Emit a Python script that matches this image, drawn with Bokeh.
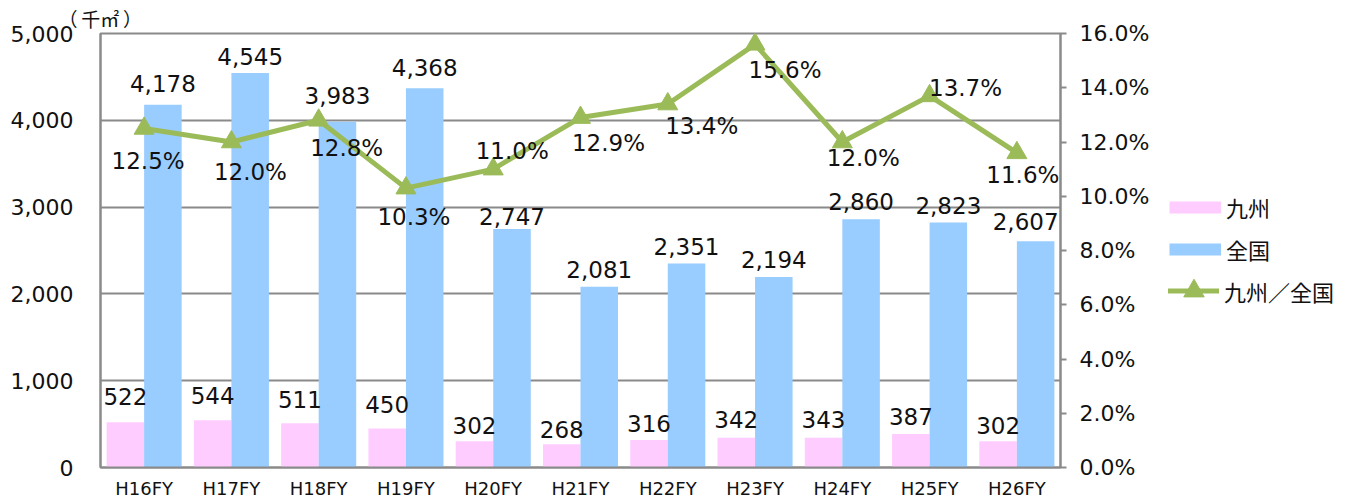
from bokeh.plotting import figure
from bokeh.layouts import row
from bokeh.models import (ColumnDataSource, FactorRange, Range1d, LinearAxis, FixedTicker,
                          NumeralTickFormatter, PrintfTickFormatter, LabelSet, Legend, LegendItem)
from bokeh.core.properties import value
from bokeh.transform import dodge
from bokeh.embed import file_html
from bokeh.resources import INLINE

# ---- data ----
categories = ["H16FY", "H17FY", "H18FY", "H19FY", "H20FY", "H21FY", "H22FY", "H23FY", "H24FY", "H25FY", "H26FY"]
kyushu = [522, 544, 511, 450, 302, 268, 316, 342, 343, 387, 302]
zenkoku = [4178, 4545, 3983, 4368, 2747, 2081, 2351, 2194, 2860, 2823, 2607]
ratio = [12.5, 12.0, 12.8, 10.3, 11.0, 12.9, 13.4, 15.6, 12.0, 13.7, 11.6]
left_ticks = [0, 1000, 2000, 3000, 4000, 5000]
right_ticks = [0, 2, 4, 6, 8, 10, 12, 14, 16]

# ---- label placement (screen px, style only) ----
ky_dy = [26, 25, 24, 24, 16, 15, 17, 18, 18, 17, 16]
zk_dx = [0, 0, 0, 0, 0, 0, 0, 0, 0, 0, -10]
zk_dy = [21, 16, 26.5, 20.7, 12.7, 17.7, 17, 17.7, 17.7, 17, 19.7]
rt_dx = [4, 19, 28, 8, 19, 28, 34, 30, 21, 36, 6]
rt_dy = [-33, -30, -28, -28.7, 18, -25, -22, -26, -16, 7.5, -22]

NUM_FONT = "DejaVu Sans"
JP_FONT = "Noto Sans CJK JP"
GRAY = "#8a8a8a"
PINK = "#FFCCFF"
BLUE = "#99CCFF"
GREEN = "#9BBB59"
TXT = "#111111"

src = ColumnDataSource(dict(
    cat=categories, ky=kyushu, zk=zenkoku, rt=ratio,
    ky_lbl=[f"{v:,}" for v in kyushu],
    zk_lbl=[f"{v:,}" for v in zenkoku],
    rt_lbl=[f"{v:.1f}%" for v in ratio],
    ky_dy=ky_dy, zk_dx=zk_dx, zk_dy=zk_dy, rt_dx=rt_dx, rt_dy=rt_dy,
))

fig = figure(width=1155, height=501, x_range=FactorRange(*categories), y_range=Range1d(0, 5000),
             output_backend="svg", toolbar_location=None,
             min_border_left=100, min_border_right=95, min_border_top=33, min_border_bottom=33)
fig.background_fill_color = "white"
fig.border_fill_color = "white"
fig.outline_line_color = GRAY
fig.outline_line_width = 2
fig.extra_y_ranges = {"pct": Range1d(0, 16)}

# unit label as title
fig.title.text = "（\u2009千㎡\u2009）"
fig.title.align = "left"
fig.title.offset = -42
fig.title.standoff = 4
fig.title.text_font = JP_FONT
fig.title.text_font_size = "19px"
fig.title.text_font_style = "normal"
fig.title.text_color = TXT

# grid
fig.xgrid.visible = False
fig.ygrid.grid_line_color = GRAY
fig.ygrid.grid_line_width = 2
fig.ygrid.ticker = FixedTicker(ticks=left_ticks)

# left axis
ya = fig.yaxis[0]
ya.ticker = FixedTicker(ticks=left_ticks)
ya.formatter = NumeralTickFormatter(format="0,0")
ya.axis_line_color = GRAY
ya.axis_line_width = 2
ya.major_tick_out = 0
ya.major_tick_in = 0
ya.minor_tick_out = 0
ya.minor_tick_in = 0
ya.major_label_standoff = 27
ya.major_label_text_font = NUM_FONT
ya.major_label_text_font_size = "22px"
ya.major_label_text_color = TXT

# bottom axis
xa = fig.xaxis[0]
xa.axis_line_color = GRAY
xa.axis_line_width = 2
xa.major_tick_out = 0
xa.major_tick_in = 0
xa.major_label_standoff = 10
xa.major_label_text_font = NUM_FONT
xa.major_label_text_font_size = "18px"
xa.major_label_text_color = TXT

# right axis
ra = LinearAxis(y_range_name="pct", ticker=FixedTicker(ticks=right_ticks),
                formatter=PrintfTickFormatter(format="%.1f%%"))
ra.axis_line_color = GRAY
ra.axis_line_width = 2
ra.major_tick_line_color = GRAY
ra.major_tick_line_width = 2
ra.major_tick_out = 6
ra.major_tick_in = 0
ra.minor_tick_out = 0
ra.minor_tick_in = 0
ra.major_label_standoff = 13
ra.major_label_text_font = NUM_FONT
ra.major_label_text_font_size = "22px"
ra.major_label_text_color = TXT
fig.add_layout(ra, "right")

# bars
r_ky = fig.vbar(x=dodge("cat", -0.215, range=fig.x_range), top="ky", width=0.43, source=src,
                fill_color=PINK, line_color=None)
r_zk = fig.vbar(x=dodge("cat", 0.215, range=fig.x_range), top="zk", width=0.43, source=src,
                fill_color=BLUE, line_color=None)

# line
r_ln = fig.line(x="cat", y="rt", source=src, y_range_name="pct", line_color=GREEN, line_width=5,
                line_cap="round", line_join="round")
r_mk = fig.scatter(x="cat", y="rt", source=src, y_range_name="pct", marker="triangle", size=20,
                   fill_color=GREEN, line_color=GREEN)

# data labels
common = dict(text_font=value(NUM_FONT), text_font_size="23px", text_color=TXT,
              text_align="center", text_baseline="middle")
fig.add_layout(LabelSet(x=dodge("cat", -0.215, range=fig.x_range), y="ky", text="ky_lbl",
                        y_offset="ky_dy", source=src, **common))
fig.add_layout(LabelSet(x=dodge("cat", 0.215, range=fig.x_range), y="zk", text="zk_lbl",
                        x_offset="zk_dx", y_offset="zk_dy", source=src, **common))
fig.add_layout(LabelSet(x="cat", y="rt", text="rt_lbl", x_offset="rt_dx", y_offset="rt_dy",
                        y_range_name="pct", source=src, **common))

# ---- legend panel (separate figure to the right) ----
lf = figure(width=216, height=501, x_range=Range1d(0, 1), y_range=Range1d(0, 1),
            output_backend="svg", toolbar_location=None,
            x_axis_location=None, y_axis_location=None,
            min_border_left=0, min_border_right=0, min_border_top=0, min_border_bottom=0)
lf.outline_line_color = None
lf.background_fill_color = "white"
lf.border_fill_color = "white"
lf.xgrid.visible = False
lf.ygrid.visible = False

sw_ky = lf.line(x=[-5, -4], y=[-5, -5], line_color=PINK, line_width=12, line_cap="butt")
sw_zk = lf.line(x=[-5, -4], y=[-5, -5], line_color=BLUE, line_width=12, line_cap="butt")
sw_ln = lf.line(x=[-5, -4], y=[-5, -5], line_color=GREEN, line_width=5, line_cap="round")
sw_mk = lf.scatter(x=[-5], y=[-5], marker="triangle", fill_color=GREEN, line_color=GREEN)

leg_style = dict(orientation="vertical", label_standoff=5, padding=0, margin=0, spacing=0,
                 label_text_font=JP_FONT, label_text_font_size="22px", label_text_color=TXT,
                 border_line_color=None, background_fill_alpha=0)
lg1 = Legend(items=[LegendItem(label="九州", renderers=[sw_ky]),
                    LegendItem(label="全国", renderers=[sw_zk])],
             location=(14, 197), glyph_width=52, glyph_height=42, label_height=42, **leg_style)
lg2 = Legend(items=[LegendItem(label="九州／全国", renderers=[sw_ln, sw_mk])],
             location=(13, 149), glyph_width=51, glyph_height=55, label_height=55, **leg_style)
lf.add_layout(lg1)
lf.add_layout(lg2)

p = row(fig, lf)
open("out.html", "w").write(file_html(p, INLINE))
